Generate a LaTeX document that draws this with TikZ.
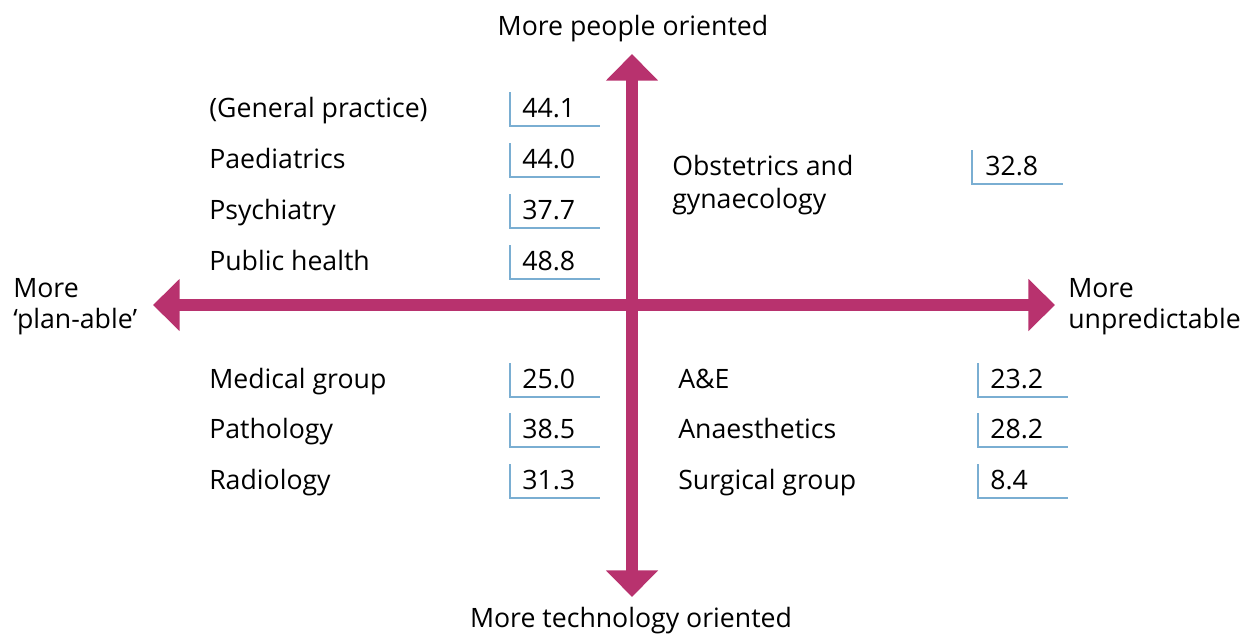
\documentclass[tikz,border=0pt]{standalone}
\usepackage{fontspec}
\setmainfont{Open Sans}
\usetikzlibrary{arrows.meta}
\definecolor{axispink}{RGB}{184,50,110}
\definecolor{barblue}{RGB}{122,174,210}

\begin{document}
\begin{tikzpicture}[x=0.75pt,y=-0.75pt,
        quadarrow/.style={draw=axispink,line width=8.5pt,
          {Triangle[length=20pt,width=38pt]}-{Triangle[length=20pt,width=38pt]}},
        txt/.style={anchor=base west,inner sep=0pt,font=\fontsize{20}{24}\selectfont},
        endtxt/.style={txt,anchor=base},
        valbar/.style={draw=barblue,line width=1.7pt}]
    \useasboundingbox (0,0) rectangle (1257,636);
    % axes
    \coordinate (top) at (632,54);
    \coordinate (bottom) at (632,597);
    \coordinate (left) at (153,305);
    \coordinate (right) at (1055,305);
    \draw[quadarrow] (bottom) -- (top);
    \draw[quadarrow] (left) -- (right);
    \node[endtxt] (people) at (633,35) {More people oriented};
    \node[endtxt] (techno) at (631,627) {More technology oriented};
    \node[txt] (plan1) at (13,297) {More};
    \node[txt] (plan2) at (13,328) {`plan-able'};
    \node[txt] (unpr1) at (1068,297) {More};
    \node[txt] (unpr2) at (1068,328) {unpredictable};
    % upper left
    \foreach \lab/\val/\y [count=\i] in {{(General practice)}/44.1/117,
        Paediatrics/44.0/168, Psychiatry/37.7/219, {Public health}/48.8/270}{
      \node[txt] (ul\i) at (209,\y) {\lab};
      \node[txt] (ulv\i) at (522,\y) {\val};
      \draw[valbar] (510,{\y-25}) |- (600,{\y+9});
    }
    % upper right
    \node[txt] (ur1) at (672,175) {Obstetrics and};
    \node[txt] (ur2) at (672,208) {gynaecology};
    \node[txt] (urv1) at (985,175) {32.8};
    \draw[valbar] (972,150) |- (1063,184);
    % lower left
    \foreach \lab/\val/\y [count=\i] in {{Medical group}/25.0/388,
        Pathology/38.5/438, Radiology/31.3/489}{
      \node[txt] (ll\i) at (209,\y) {\lab};
      \node[txt] (llv\i) at (522,\y) {\val};
      \draw[valbar] (510,{\y-25}) |- (600,{\y+9});
    }
    % lower right
    \foreach \lab/\val/\y [count=\i] in {A\&E/23.2/388,
        Anaesthetics/28.2/438, {Surgical group}/8.4/489}{
      \node[txt] (lr\i) at (678,\y) {\lab};
      \node[txt] (lrv\i) at (990,\y) {\val};
      \draw[valbar] (978,{\y-25}) |- (1068,{\y+9});
    }
\end{tikzpicture}
\end{document}
